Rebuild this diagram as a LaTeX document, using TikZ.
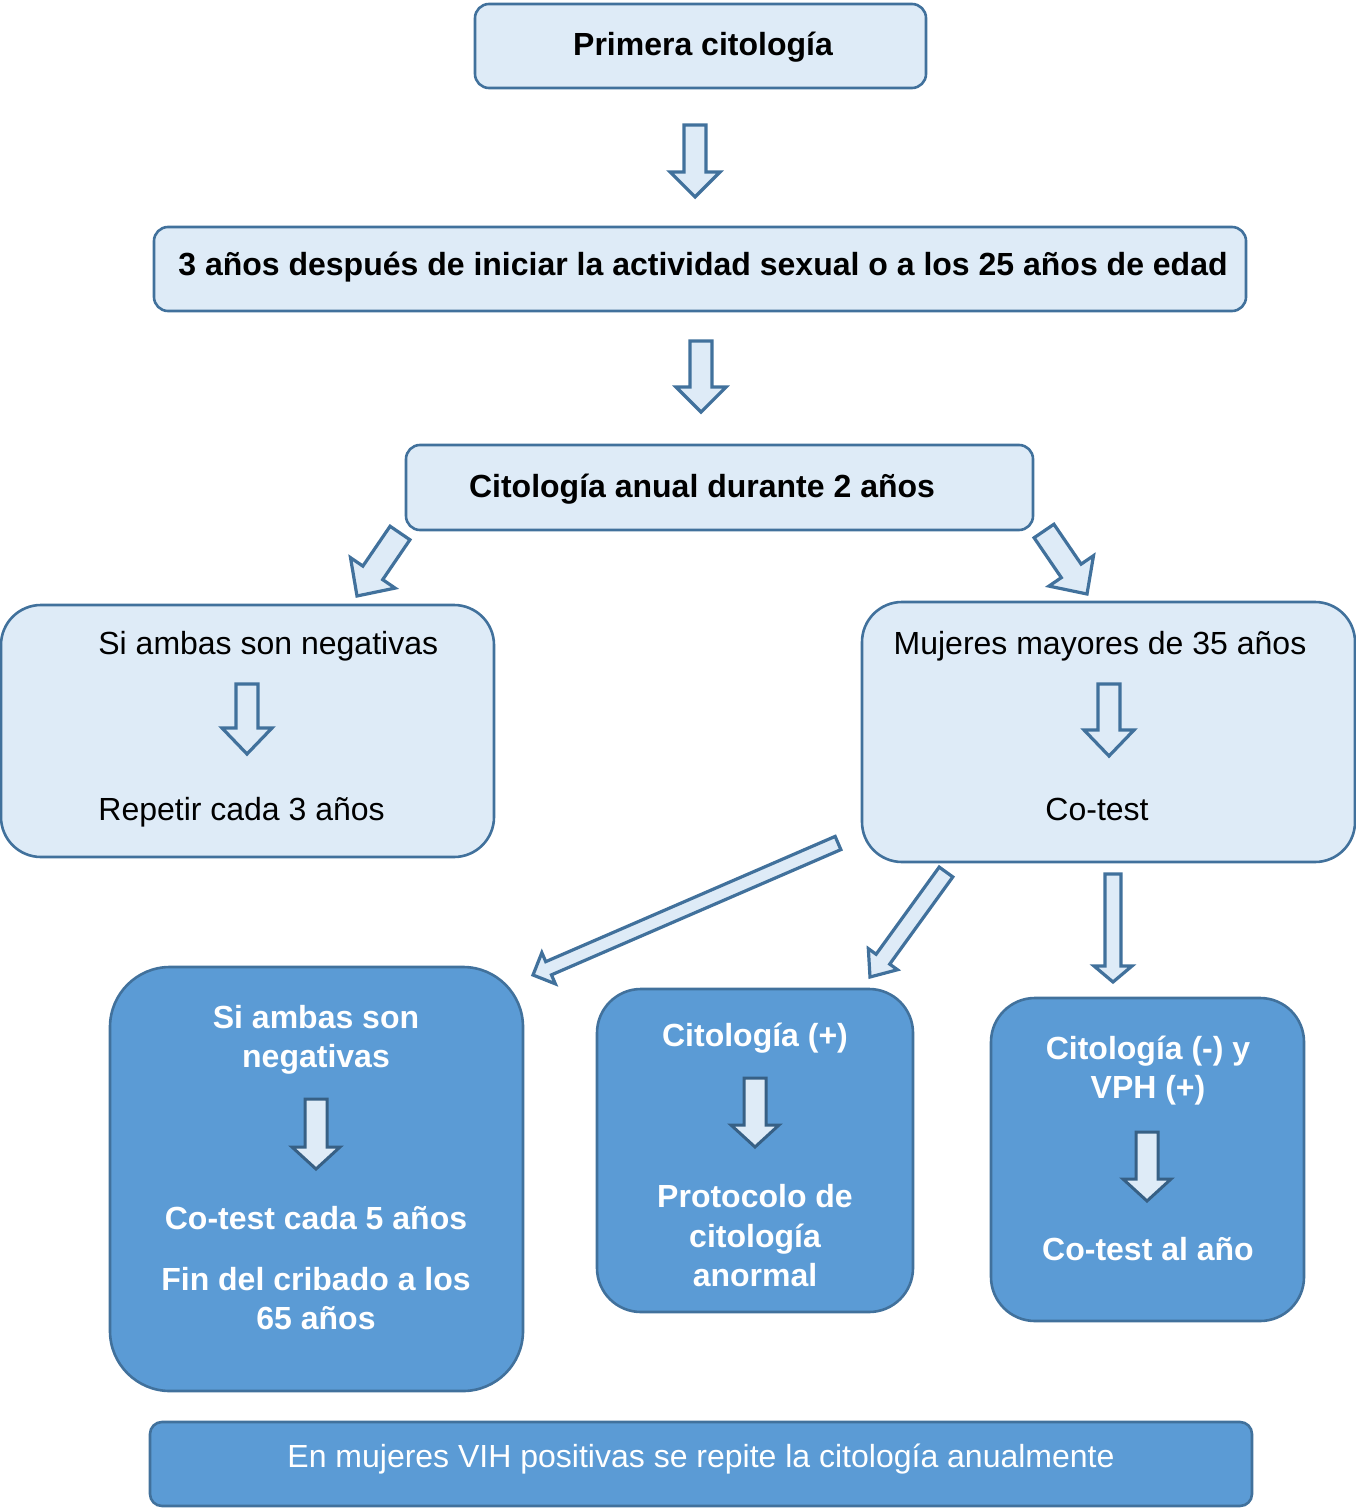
\documentclass[tikz,border=0pt]{standalone}
\usepackage{fontspec}
\setmainfont{Liberation Sans}
\usetikzlibrary{calc}
\definecolor{lightfill}{HTML}{DEEBF7}
\definecolor{edgeblue}{HTML}{41719C}
\definecolor{darkfill}{HTML}{5B9BD5}
\newcommand\blockarr[6][barrow]{%
  \coordinate (bh) at ($(#3)!#6!(#2)$);
  \draw[#1] ($(#2)!#4!90:(#3)$) -- ($(bh)!#4!90:(#3)$) -- ($(bh)!#5!90:(#3)$) -- (#3)
    -- ($(bh)!#5!-90:(#3)$) -- ($(bh)!#4!-90:(#3)$) -- ($(#2)!#4!-90:(#3)$) -- cycle;
}
\begin{document}
\begin{tikzpicture}[x=0.5pt,y=-0.5pt,
  lightbox/.style={draw=edgeblue,fill=lightfill,line width=1.3pt,rectangle,inner sep=0pt},
  darkbox/.style={draw=edgeblue,fill=darkfill,line width=1.3pt,rectangle,inner sep=0pt},
  barrow/.style={draw=edgeblue,fill=lightfill,line width=1.6pt,line join=miter},
  innerarrow/.style={draw=edgeblue!85!black,fill=lightfill,line width=1.5pt,line join=miter},
  txt/.style={inner sep=0pt,anchor=base,font=\fontsize{16pt}{19.5pt}\selectfont},
  btxt/.style={txt,font=\fontsize{16pt}{19.5pt}\selectfont\bfseries},
  wtxt/.style={btxt,text=white}]
\useasboundingbox (0,0) rectangle (1355,1508);

% boxes
\node[lightbox,rounded corners=7pt,minimum width=225.5pt,minimum height=42pt] (b1) at (700.5,46) {};
\node[lightbox,rounded corners=7pt,minimum width=546pt,minimum height=42pt] (b2) at (700,269) {};
\node[lightbox,rounded corners=7pt,minimum width=313.5pt,minimum height=42.5pt] (b3) at (719.5,487.5) {};
\node[lightbox,rounded corners=20pt,minimum width=246.5pt,minimum height=126pt] (b4) at (247.5,731) {};
\node[lightbox,rounded corners=20pt,minimum width=246.5pt,minimum height=130pt] (b5) at (1108.5,732) {};
\node[darkbox,rounded corners=30pt,minimum width=206.5pt,minimum height=212pt] (d1) at (316.5,1179) {};
\node[darkbox,rounded corners=22pt,minimum width=158pt,minimum height=161.5pt] (d2) at (755,1150.5) {};
\node[darkbox,rounded corners=22pt,minimum width=156.5pt,minimum height=161.5pt] (d3) at (1147.5,1159.5) {};
\node[darkbox,rounded corners=6pt,minimum width=551pt,minimum height=42pt] (b6) at (701,1464) {};

% texts
\node[btxt] (t1) at (703,56) {Primera citología};
\node[btxt] (t2) at (703,276) {3 años después de iniciar la actividad sexual o a los 25 años de edad};
\node[btxt] (t3) at (702,497) {Citología anual durante 2 años};
\node[txt,anchor=base west] (t4a) at (98,654) {Si ambas son negativas};
\node[txt,anchor=base west] (t4b) at (98,820) {Repetir cada 3 años};
\node[txt] (t5a) at (1100,654) {Mujeres mayores de 35 años};
\node[txt] (t5b) at (1097,820) {Co-test};
\node[wtxt] (u1) at (316,1028) {Si ambas son};
\node[wtxt] (u2) at (316,1067) {negativas};
\node[wtxt] (u3) at (316,1229) {Co-test cada 5 años};
\node[wtxt] (u4) at (316,1290) {Fin del cribado a los};
\node[wtxt] (u5) at (316,1329) {65 años};
\node[wtxt] (v1) at (755,1046) {Citología (+)};
\node[wtxt] (v2) at (755,1207) {Protocolo de};
\node[wtxt] (v3) at (755,1247) {citología};
\node[wtxt] (v4) at (755,1286) {anormal};
\node[wtxt] (w1) at (1148,1059) {Citología (-) y};
\node[wtxt] (w2) at (1148,1098) {VPH (+)};
\node[wtxt] (w3) at (1148,1260) {Co-test al año};
\node[txt,text=white] (t6) at (701,1467) {En mujeres VIH positivas se repite la citología anualmente};

% arrow coordinates
\coordinate (a1s) at (695,125);  \coordinate (a1t) at (695,197);
\coordinate (a2s) at (701,341);  \coordinate (a2t) at (701,412);
\coordinate (a3s) at (400,533);  \coordinate (a3t) at (357,596);
\coordinate (a4s) at (1044,531); \coordinate (a4t) at (1087,594);
\coordinate (a5s) at (838,843);  \coordinate (a5t) at (533,975);
\coordinate (a6s) at (946,872);  \coordinate (a6t) at (870,977);
\coordinate (a7s) at (1113,874); \coordinate (a7t) at (1113,982);
\coordinate (a8s) at (247,684);  \coordinate (a8t) at (247,754);
\coordinate (a9s) at (1109,684); \coordinate (a9t) at (1109,756);
\coordinate (c1s) at (316,1099); \coordinate (c1t) at (316,1169);
\coordinate (c2s) at (755,1078); \coordinate (c2t) at (755,1147);
\coordinate (c3s) at (1147,1132);\coordinate (c3t) at (1147,1201);

% arrows
\blockarr{a1s}{a1t}{5.5pt}{12.5pt}{12.5pt}
\blockarr{a2s}{a2t}{5.5pt}{12.5pt}{12.5pt}
\blockarr{a3s}{a3t}{6pt}{13.5pt}{14pt}
\blockarr{a4s}{a4t}{6pt}{13.5pt}{14pt}
\blockarr{a5s}{a5t}{3.6pt}{8.5pt}{8.5pt}
\blockarr{a6s}{a6t}{4.2pt}{9pt}{11pt}
\blockarr{a7s}{a7t}{4pt}{9.5pt}{8pt}
\blockarr{a8s}{a8t}{5.5pt}{12.5pt}{13pt}
\blockarr{a9s}{a9t}{5.5pt}{12.5pt}{13pt}
\blockarr[innerarrow]{c1s}{c1t}{5.5pt}{12pt}{11pt}
\blockarr[innerarrow]{c2s}{c2t}{5.5pt}{12pt}{11pt}
\blockarr[innerarrow]{c3s}{c3t}{5.5pt}{12pt}{11pt}
\end{tikzpicture}
\end{document}
